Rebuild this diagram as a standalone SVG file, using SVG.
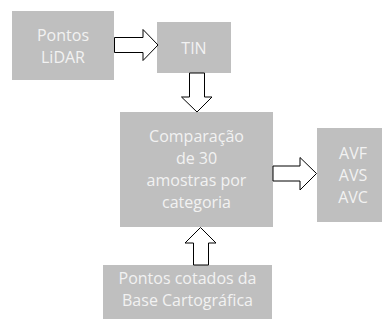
<svg xmlns="http://www.w3.org/2000/svg" width="382" height="329" viewBox="0 0 382 329">
<style>
.box{fill:#bfbfbf}
.t{font-family:"Open Sans","Liberation Sans",sans-serif;font-size:16px;fill:#f2f2f2;text-anchor:middle}
.arr{fill:#ffffff;stroke:#000000;stroke-width:1}
</style>
<rect width="382" height="329" fill="#ffffff"/>
<g id="lidar"><rect class="box" x="12" y="11" width="102" height="69"/><text class="t" x="63" y="40.5">Pontos</text><text class="t" x="63" y="63">LiDAR</text></g>
<g id="tin"><rect class="box" x="157" y="22" width="74" height="51"/><text class="t" x="194" y="54">TIN</text></g>
<g id="comp"><rect class="box" x="120" y="112" width="153" height="115"/><text class="t" x="196.5" y="142">Comparação</text><text class="t" x="196.5" y="164">de 30</text><text class="t" x="196.5" y="186">amostras por</text><text class="t" x="196.5" y="208">categoria</text></g>
<g id="avf"><rect class="box" x="317" y="128" width="65" height="94"/><text class="t" x="353" y="159">AVF</text><text class="t" x="353" y="181">AVS</text><text class="t" x="353" y="203">AVC</text></g>
<g id="base"><rect class="box" x="103" y="265" width="169" height="54"/><text class="t" x="187.5" y="284">Pontos cotados da</text><text class="t" x="187.5" y="306">Base Cartográfica</text></g>
<g id="connectors">
<polygon class="arr" points="114.5,37.5 143,37.5 143,29.5 158,45 143,60.5 143,52.5 114.5,52.5"/>
<polygon class="arr" points="189.5,73 204.5,73 204.5,97 212,97 197,112 181.5,97 189.5,97"/>
<polygon class="arr" points="273,166 300,166 300,157.5 316.5,173.5 300,190 300,181 273,181"/>
<polygon class="arr" points="193.5,265 208.5,265 208.5,243 216,243 200.5,227.5 185,243 193.5,243"/>
</g>
</svg>
